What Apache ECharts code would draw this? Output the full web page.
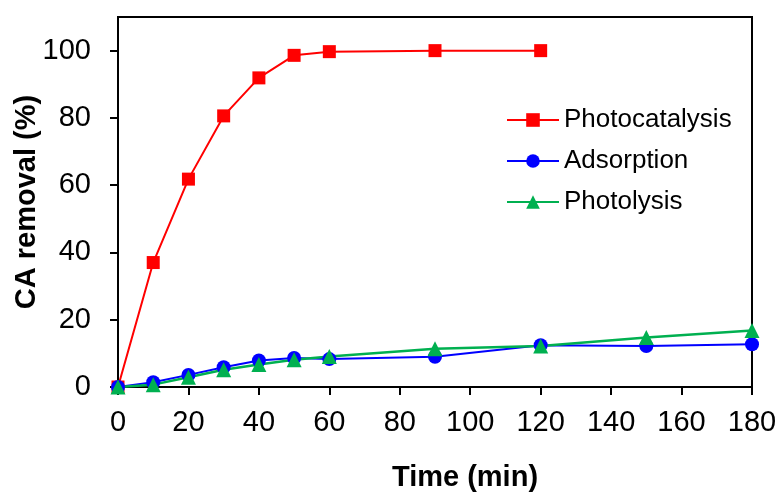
<!DOCTYPE html>
<html>
<head>
<meta charset="utf-8">
<script src="https://cdn.jsdelivr.net/npm/echarts@6/dist/echarts.min.js"></script>
<style>html,body{margin:0;padding:0;background:#fff}#c{width:777px;height:493px}</style>
</head>
<body>
<div id="c"></div>
<script>
var timeMin = [0, 10, 20, 30, 40, 50, 60, 90, 120, 150, 180];
var photocatalysis = [0, 37, 61.8, 80.6, 91.9, 98.6, 99.7, 100, 100];
var adsorption = [0, 1.4, 3.6, 5.9, 7.9, 8.6, 8.3, 9.0, 12.4, 12.2, 12.7];
var photolysis = [0, 0.7, 2.9, 5.1, 6.7, 8.1, 9.1, 11.4, 12.2, 14.7, 16.8];
var yTicks = [0, 20, 40, 60, 80, 100];
var xTicks = [0, 20, 40, 60, 80, 100, 120, 140, 160, 180];

function pairs(vals) { return vals.map(function (v, i) { return [timeMin[i], v]; }); }
var FONT = 'Liberation Sans, Arial, sans-serif';
var chart = echarts.init(document.getElementById('c'), null, { renderer: 'canvas' });
chart.setOption({
  animation: false,
  backgroundColor: '#fff',
  grid: { left: 118, right: 25, top: 17, bottom: 106, containLabel: false, outerBoundsMode: 'none',
          show: true, borderColor: '#000', borderWidth: 2 },
  legend: {
    orient: 'vertical', left: 506, top: 107, padding: 0,
    itemWidth: 52, itemHeight: 17, itemGap: 15,
    textStyle: { fontFamily: FONT, fontSize: 26, color: '#000', lineHeight: 26 },
    data: ['Photocatalysis', 'Adsorption', 'Photolysis']
  },
  xAxis: {
    type: 'value', min: 0, max: 180, interval: 20,
    name: 'Time (min)', nameLocation: 'middle', nameGap: 76, nameMoveOverlap: false,
    nameTextStyle: { fontFamily: FONT, fontSize: 29, fontWeight: 'bold', color: '#000', padding: [0, 0, 0, 60] },
    axisLine: { lineStyle: { color: '#000', width: 2 } },
    axisTick: { show: true, inside: false, length: 8, lineStyle: { color: '#000', width: 2 } },
    axisLabel: { fontFamily: FONT, fontSize: 29, color: '#000', margin: 21, customValues: xTicks },
    splitLine: { show: false }
  },
  yAxis: {
    type: 'value', min: 0, max: 110, interval: 10,
    name: 'CA removal (%)', nameLocation: 'middle', nameGap: 77, nameMoveOverlap: false,
    nameTextStyle: { fontFamily: FONT, fontSize: 29, fontWeight: 'bold', color: '#000' },
    axisLine: { show: true, lineStyle: { color: '#000', width: 2 } },
    axisTick: { show: true, length: 8, lineStyle: { color: '#000', width: 2 }, customValues: yTicks },
    axisLabel: { fontFamily: FONT, fontSize: 29, color: '#000', margin: 27, customValues: yTicks },
    splitLine: { show: false }
  },
  series: [
    { name: 'Photocatalysis', type: 'line', data: pairs(photocatalysis), clip: false,
      symbol: 'rect', symbolSize: 13, color: '#ff0000',
      lineStyle: { width: 2, color: '#ff0000' }, itemStyle: { color: '#ff0000' } },
    { name: 'Adsorption', type: 'line', data: pairs(adsorption), clip: false,
      symbol: 'circle', symbolSize: 14, color: '#0000ff',
      lineStyle: { width: 2, color: '#0000ff' }, itemStyle: { color: '#0000ff' } },
    { name: 'Photolysis', type: 'line', data: pairs(photolysis), clip: false,
      symbol: 'triangle', symbolSize: 15, color: '#00b050',
      lineStyle: { width: 2.5, color: '#00b050' }, itemStyle: { color: '#00b050' } }
  ]
});
</script>
</body>
</html>
